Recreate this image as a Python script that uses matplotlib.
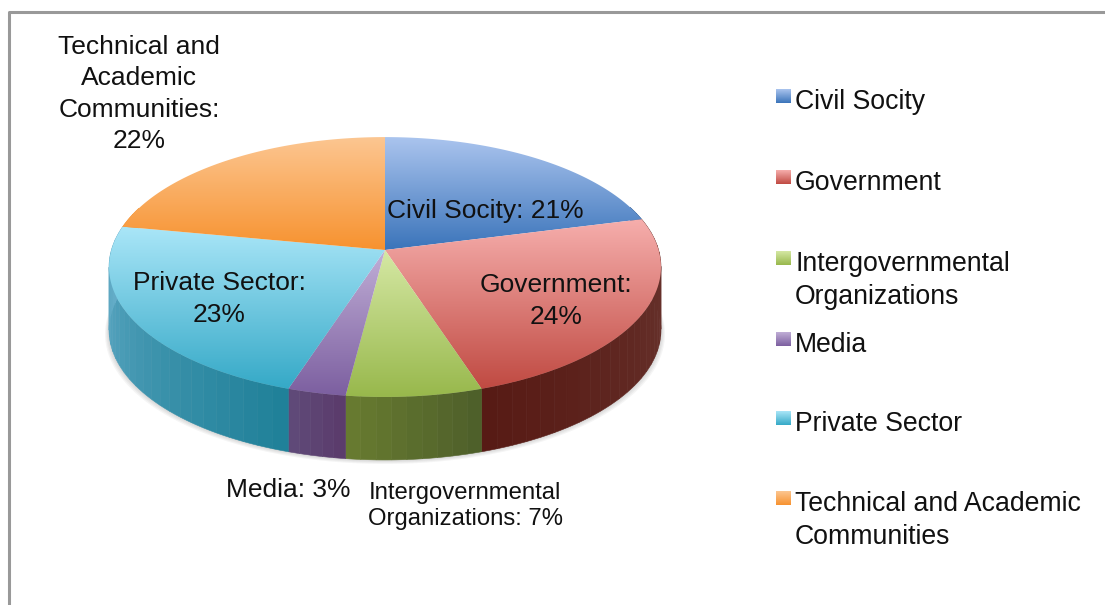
import numpy as np
import matplotlib
matplotlib.use("Agg")
import matplotlib.pyplot as plt
from matplotlib.colors import to_rgb
from matplotlib.patches import Polygon

plt.rcParams['font.family'] = ['Liberation Sans', 'DejaVu Sans']

categories = ['Civil Socity', 'Government', 'Intergovernmental\nOrganizations',
              'Media', 'Private Sector', 'Technical and Academic\nCommunities']
shares = [21, 24, 7, 3, 23, 22]

# light / dark ends of the top gradient, and of the side wall
top_light = ['#aac4ee', '#f6aeac', '#d5e8a4', '#c0aed6', '#aae6f8', '#fcc691']
top_dark = ['#3b74ba', '#c04a42', '#98b84c', '#7c5fa0', '#35a9c7', '#f7922f']
side_light = ['#3b74ba', '#6c3a34', '#4d5e2a', '#5a3a6a', '#6ab0cc', '#f7922f']
side_dark = ['#2a5488', '#571a14', '#687c30', '#604b7a', '#1f8098', '#c06f20']

cx, cy = 385, 250
w, h, k = 273.6, 127.7, 0.131
depth = 63


def project(t, drop=0.0):
    # t is clockwise from 12 o'clock, perspective makes the front bigger
    u, v = np.sin(t), np.cos(t)
    s = 1 / (1 + k * v)
    return cx + w * u * s, cy - h * v * s + drop


def blend(a, b, f):
    a, b = np.array(to_rgb(a)), np.array(to_rgb(b))
    return a + (b - a) * f


def gradient_box(x0, x1, y0, y1, light, dark, clip=None):
    grad = np.array([[blend(light, dark, v)] for v in np.linspace(0, 1, 128)])
    im = ax.imshow(grad, extent=[x0, x1, y1, y0], aspect='auto',
                   interpolation='bilinear', zorder=3)
    if clip is not None:
        im.set_clip_path(clip)


fig = plt.figure(figsize=(11.05, 6.05), dpi=100)
ax = fig.add_axes([0, 0, 1, 1])
ax.set_xlim(0, 1105)
ax.set_ylim(605, 0)
ax.axis('off')

# frame of the slide, only top and left show
ax.plot([1105, 9, 9], [11.5, 11.5, 605], color='#999999', lw=2.2)

edges = np.cumsum([0] + shares) / sum(shares) * 2 * np.pi

# soft shadow under the pie
t_all = np.linspace(np.pi / 2 - 0.1, 3 * np.pi / 2 + 0.1, 200)
for grow in [4, 3, 2, 1]:
    xs, ys = project(t_all, depth + grow)
    xs = cx + (xs - cx) * (1 + grow / 276)
    ax.add_patch(Polygon(np.c_[xs, ys], fc='#555555', ec='none', alpha=0.06, zorder=1))

# side wall, cut in small strips
for i in range(len(shares)):
    ts = np.linspace(edges[i], edges[i + 1], int(shares[i] * 1.1) + 3)
    for j in range(len(ts) - 1):
        mid = (ts[j] + ts[j + 1]) / 2
        if np.cos(mid) > 0.35:
            continue
        seg = np.linspace(ts[j], ts[j + 1], 8)
        x_top, y_top = project(seg)
        x_bot, y_bot = project(seg[::-1], depth)
        f = (j + 0.5) / (len(ts) - 1)
        if i == 4:
            f = 1 - f
        c = blend(side_light[i], side_dark[i], f)
        ax.add_patch(Polygon(np.c_[np.r_[x_top, x_bot], np.r_[y_top, y_bot]],
                             fc=c, ec=c, lw=0.4, zorder=2))

# top of the pie, gradient clipped by each slice
for i in range(len(shares)):
    ts = np.linspace(edges[i], edges[i + 1], 80)
    xs, ys = project(ts)
    xs = np.r_[cx, xs]
    ys = np.r_[cy, ys]
    patch = Polygon(np.c_[xs, ys], fc='none', ec='none', transform=ax.transData)
    ax.add_patch(patch)
    gradient_box(xs.min(), xs.max(), ys.min(), ys.max(), top_light[i], top_dark[i], patch)

# slice labels
label_kw = dict(ha='center', va='center', fontsize=19, linespacing=1.38, color='#111111', zorder=5)
ax.text(139, 94, 'Technical and\nAcademic\nCommunities:\n22%', **label_kw)
ax.text(485, 211, 'Civil Socity: 21%', **label_kw)
ax.text(556, 301, 'Government:\n24%', **label_kw)
ax.text(219, 299, 'Private Sector:\n23%', **label_kw)
ax.text(288, 490, 'Media: 3%', **label_kw)
ax.text(465, 506, 'Intergovernmental\nOrganizations: 7%', ha='center', va='center',
        fontsize=17.2, linespacing=1.28, color='#111111', zorder=5)

# legend
legend_y = [96, 177, 258, 339, 418, 498]
for i, (name, y) in enumerate(zip(categories, legend_y)):
    gradient_box(775.5, 790, y - 7, y + 7, top_light[i], top_dark[i])
    ax.text(795, y - 7, name, ha='left', va='top', fontsize=19.2, linespacing=1.36,
            color='#111111', zorder=5)

ax.set_xlim(0, 1105)
ax.set_ylim(605, 0)
fig.savefig('out.png', dpi=100)
